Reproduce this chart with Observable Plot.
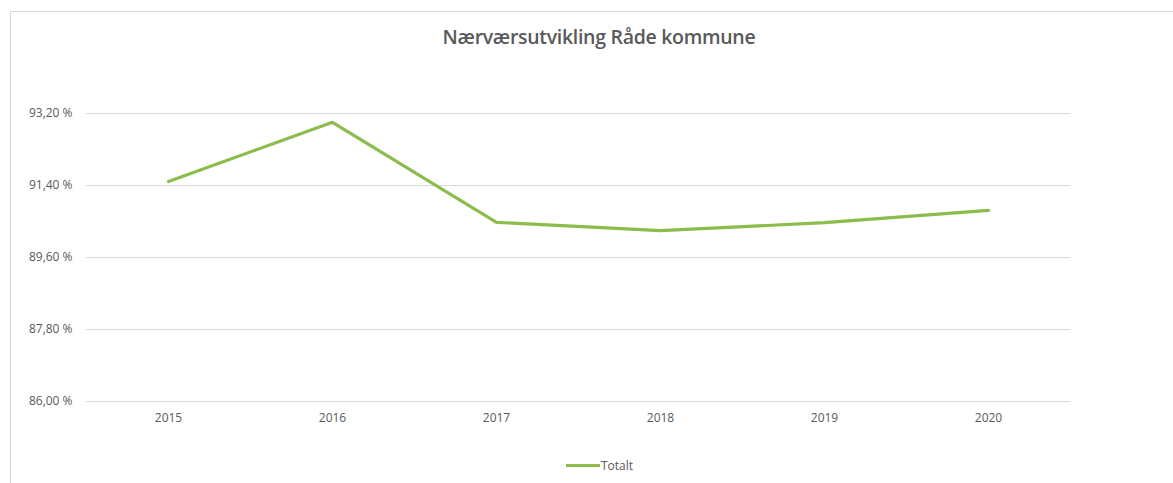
<!DOCTYPE html>
<html>
<head>
<meta charset="utf-8">
<script src="https://cdn.jsdelivr.net/npm/d3@7"></script>
<script src="https://cdn.jsdelivr.net/npm/@observablehq/plot@0.6"></script>
<style>
  html, body { margin: 0; padding: 0; background: #fff; }
  #wrap { position: relative; width: 1173px; height: 483px; overflow: hidden; font-family: "Open Sans", sans-serif; }
  #frame { position: absolute; left: 10px; top: 11px; width: 1200px; height: 500px; border-left: 1px solid #d9d9d9; border-top: 1px solid #d9d9d9; box-sizing: border-box; }
  #title { position: absolute; left: 0; width: 1198px; top: 23px; text-align: center; font-size: 19.5px; font-weight: 600; color: #595959; letter-spacing: -0.3px; }
  #legend { position: absolute; left: 566px; top: 457px; font-size: 12px; color: #595959; display: flex; align-items: center; }
  #legend .sw { width: 34px; height: 3px; background: #8cbc4c; margin-right: 1px; }
  #chart { position: absolute; left: 0; top: 0; }
</style>
</head>
<body>
<div id="wrap">
  <div id="frame"></div>
  <div id="chart"></div>
  <div id="title">Nærværsutvikling Råde kommune</div>
  <div id="legend"><span class="sw"></span><span>Totalt</span></div>
</div>
<script>
const years = ["2015", "2016", "2017", "2018", "2019", "2020"];
const totalt = [91.50, 92.98, 90.48, 90.27, 90.47, 90.78];
const yTicks = [86.0, 87.8, 89.6, 91.4, 93.2];
const seriesName = "Totalt";

const data = years.map((y, i) => ({year: y, value: totalt[i], series: seriesName}));
const locale = d3.formatLocale({decimal: ",", thousands: " ", grouping: [3], currency: ["", " kr"]});
const fmt = v => locale.format(".2f")(v) + " %";

const plot = Plot.plot({
  width: 1173,
  height: 483,
  marginTop: 113,
  marginBottom: 82,
  marginLeft: 86,
  marginRight: 103,
  style: {fontFamily: "'Open Sans', sans-serif", fontSize: "12px", color: "#595959", background: "transparent"},
  x: {type: "point", domain: years, padding: 0.5, label: null},
  y: {domain: [86, 93.2], label: null},
  marks: [
    Plot.gridY(yTicks, {stroke: "#d9d9d9", strokeOpacity: 1, strokeWidth: 1}),
    Plot.axisY(yTicks, {tickSize: 0, tickPadding: 14, tickFormat: fmt, fontSize: 12, fill: "#595959"}),
    Plot.axisX({tickSize: 0, tickPadding: 12, fontSize: 12, fill: "#595959"}),
    Plot.line(data, {x: "year", y: "value", stroke: "#8cbc4c", strokeWidth: 3.2, strokeLinejoin: "round", strokeLinecap: "round"})
  ]
});
document.getElementById("chart").appendChild(plot);
</script>
</body>
</html>
